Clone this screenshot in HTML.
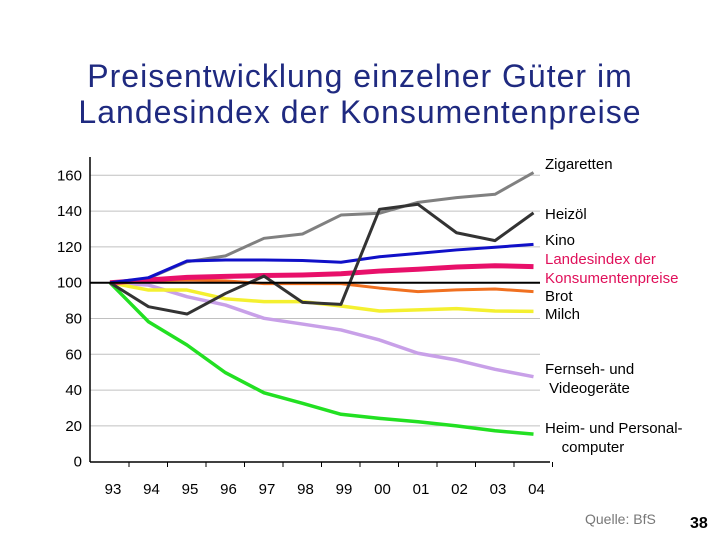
<!DOCTYPE html>
<html><head><meta charset="utf-8"><style>
body{margin:0;background:#fff;width:720px;height:540px;overflow:hidden;font-family:"Liberation Sans",sans-serif}
</style></head><body>
<svg width="720" height="540" font-family="Liberation Sans, sans-serif">
<text x="360" y="87" text-anchor="middle" font-size="32" letter-spacing="1" fill="#1f2a80">Preisentwicklung einzelner Güter im</text>
<text x="360" y="123" text-anchor="middle" font-size="32" letter-spacing="1" fill="#1f2a80">Landesindex der Konsumentenpreise</text>
<g id="grid"></g><g id="series"></g><g id="axes"></g>
<text x="585" y="524" font-size="14" fill="#777">Quelle: BfS</text>
<text x="690" y="528" font-size="16" font-weight="bold" fill="#000">38</text>
</svg>
<script>
const categories=["93","94","95","96","97","98","99","00","01","02","03","04"];
const yTicks=[0,20,40,60,80,100,120,140,160];
const zigaretten=[100,102.5,111.7,115,124.8,127.2,137.8,138.8,144.9,147.5,149.4,161.5];
const heizoel=[100,86.6,82.5,94,103.7,89,87.9,141,143.8,127.9,123.5,139];
const kino=[100,102.8,112.1,112.7,112.7,112.4,111.4,114.5,116.4,118.3,119.8,121.4];
const landesindex=[100,101.5,103,103.5,104,104.3,105,106.5,107.5,108.8,109.5,109];
const brot=[100,101,101.5,101,99.5,99.5,99.5,97,95,96,96.5,95];
const milch=[100,95.9,95.9,91,89.4,89.4,87,84.2,84.8,85.5,84.2,84];
const fernseh=[100,98.7,92.2,87.5,80.1,76.9,73.6,68,60.6,56.8,51.6,47.5];
const computer=[100,78.2,65.2,49.7,38.5,32.6,26.5,24.2,22.3,20,17.3,15.4];
const labels=[["Zigaretten",169,"#000"],["Heizöl",219,"#000"],["Kino",245,"#000"],["Landesindex der",264,"#e0105a"],["Konsumentenpreise",283,"#e0105a"],["Brot",301,"#000"],["Milch",319,"#000"],["Fernseh- und",374,"#000"],[" Videogeräte",393,"#000"],["Heim- und Personal-",433,"#000"],["    computer",452,"#000"]];
const NS="http://www.w3.org/2000/svg";
const X=i=>110+i*38.5, Y=v=>461.7-v*1.79;
function mk(t,a,p){const e=document.createElementNS(NS,t);for(const k in a)e.setAttribute(k,a[k]);document.getElementById(p).appendChild(e);return e;}
yTicks.forEach(v=>{
 if(v>0&&v!==100){const l=mk("line",{x1:90,x2:540,y1:Y(v),y2:Y(v),stroke:"#c0c0c0","stroke-width":1},"grid");
 
 }
 const t=mk("text",{x:82,y:Y(v)+5,"text-anchor":"end","font-size":15},"axes");t.textContent=v;
 
 
});
const series=[["zigaretten",zigaretten,"#808080",3],["fernseh",fernseh,"#c8a0e8",3.5],["computer",computer,"#22e022",3.5],["milch",milch,"#f4f030",3.5],["brot",brot,"#f07020",3],["landesindex",landesindex,"#e8106a",5],["kino",kino,"#1010c8",3],["heizoel",heizoel,"#333333",3]];
series.forEach(([n,d,c,w])=>{
 const p=mk("polyline",{points:d.map((v,i)=>X(i)+","+Y(v)).join(" "),fill:"none",stroke:c,"stroke-width":w,"stroke-linejoin":"round"},"series");
 
 
});
const base=mk("line",{x1:90,x2:540,y1:Y(100),y2:Y(100),stroke:"#000","stroke-width":2},"axes");


const ya=mk("line",{x1:90,x2:90,y1:157,y2:462,stroke:"#000","stroke-width":1.5},"axes");


const xa=mk("line",{x1:90,x2:550,y1:462,y2:462,stroke:"#000","stroke-width":1.5},"axes");


categories.forEach((c,i)=>{
 mk("line",{x1:X(i)+19,x2:X(i)+19,y1:462,y2:467,stroke:"#000"},"axes");
 const t=mk("text",{x:X(i)+3,y:494,"text-anchor":"middle","font-size":15},"axes");t.textContent=c;
 
 
});
labels.forEach(([s,y,c])=>{
 const t=mk("text",{x:545,y:y,"font-size":15,fill:c},"axes");t.textContent=s;t.style.whiteSpace="pre";
 
 
});
</script>
</body></html>
